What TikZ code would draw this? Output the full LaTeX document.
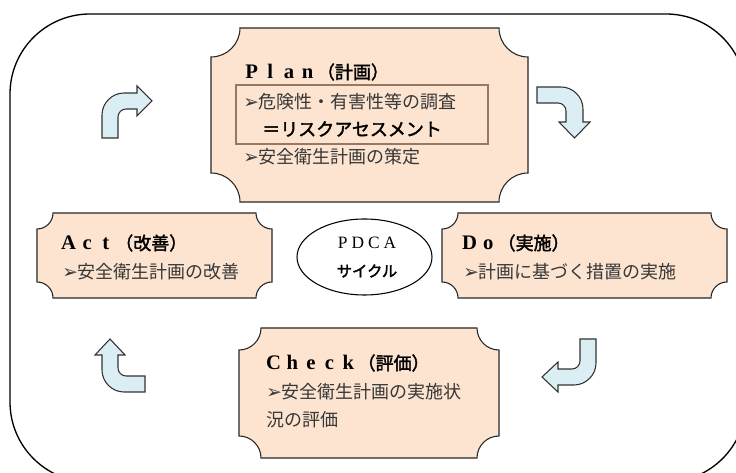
\documentclass[tikz,border=0pt]{standalone}
\usepackage{fontspec}
\setmainfont{Liberation Serif}
\newfontfamily\jp{Noto Sans CJK JP}
\newfontfamily\jpb{Noto Sans CJK JP}[FakeBold=2]
\newfontfamily\dv{DejaVu Sans}
\definecolor{peach}{RGB}{252,228,208}
\definecolor{arrowfill}{RGB}{218,238,243}
\definecolor{innerbrd}{RGB}{150,120,100}
\definecolor{bodytxt}{RGB}{55,55,55}
\newcommand{\arw}{{\dv\fontsize{14}{13}\selectfont ➢}}
\newcommand{\wl}[1]{\makebox[14pt][c]{\bfseries\fontsize{15.5}{15.5}\selectfont #1}}
\newcommand{\ttlkanji}[1]{{\jpb\fontsize{13.5}{13.5}\selectfont #1}}
\newcommand{\plaque}[5]{%
\filldraw[plaq] ({#1+#5},#2) -- ({#3-#5},#2)
 .. controls ({#3-#5},{#2+0.552*#5}) and ({#3-0.552*#5},{#2+#5}) .. (#3,{#2+#5})
 -- (#3,{#4-#5})
 .. controls ({#3-0.552*#5},{#4-#5}) and ({#3-#5},{#4-0.552*#5}) .. ({#3-#5},#4)
 -- ({#1+#5},#4)
 .. controls ({#1+#5},{#4-0.552*#5}) and ({#1+0.552*#5},{#4-#5}) .. (#1,{#4-#5})
 -- (#1,{#2+#5})
 .. controls ({#1+0.552*#5},{#2+#5}) and ({#1+#5},{#2+0.552*#5}) .. ({#1+#5},#2)
 -- cycle;}
\begin{document}
\begin{tikzpicture}[x=0.75pt,y=-0.75pt,
  plaq/.style={fill=peach,draw=black!85,line width=0.8pt},
  bent/.style={fill=arrowfill,draw=black!80,line width=0.8pt,line join=miter},
  body/.style={anchor=west,inner sep=0pt,text=bodytxt,font=\jp\fontsize{13.5}{13.5}\selectfont},
  title/.style={anchor=west,inner sep=0pt,text=black}]
\useasboundingbox (0,0) rectangle (736,473);
\clip (0,0) rectangle (736,473);
\fill[white] (0,0) rectangle (736,473);
% outer frame
\draw[line width=1pt,rounded corners=60pt] (10,14) rectangle (746,482);
% boxes
\plaque{211}{28}{528}{202}{29}
\draw[innerbrd,line width=0.8pt] (236,85) rectangle (488,144);
\plaque{37}{213}{272}{298}{16}
\plaque{442}{213}{727}{298}{16}
\plaque{239}{328}{499}{458}{22}
\draw[line width=0.8pt,fill=white] (364.5,257) ellipse [x radius=67.5,y radius=38];
% texts
\node[title] (plantitle) at (242,72) {\wl{P}\wl{l}\wl{a}\wl{n}\ttlkanji{（計画）}};
\node[body] (plan1) at (243,102) {\arw 危険性・有害性等の調査};
\node[body,text=black] (plan2) at (262,129) {\jpb\fontsize{13.5}{13.5}\selectfont ＝リスクアセスメント};
\node[body] (plan3) at (243,157) {\arw 安全衛生計画の策定};
\node[title] (acttitle) at (59,243) {\wl{A}\wl{c}\wl{t}\ttlkanji{（改善）}};
\node[body] (act1) at (62,272) {\arw 安全衛生計画の改善};
\node[title] (dotitle) at (460,243) {\wl{D}\wl{o}\ttlkanji{（実施）}};
\node[body] (do1) at (463,272) {\arw 計画に基づく措置の実施};
\node[title] (checktitle) at (264,363) {\wl{C}\wl{h}\wl{e}\wl{c}\wl{k}\ttlkanji{（評価）}};
\node[body] (check1) at (266,392) {\arw 安全衛生計画の実施状};
\node[body] (check2) at (266,420) {況の評価};
\node[inner sep=0pt,font=\fontsize{13}{13}\selectfont] (pdca) at (367,243) {P\hspace{3pt}D\hspace{3pt}C\hspace{3pt}A};
\node[inner sep=0pt,font=\jpb\fontsize{11.5}{11.5}\selectfont] (cycle) at (367,271) {サイクル};
% bent arrows
\filldraw[bent] (102,138) -- (102,115) .. controls (102,103) and (112,93) .. (124,93) -- (137,93) -- (137,86) -- (152,101) -- (137,116) -- (137,109) -- (126,109) .. controls (121.6,109) and (118,112.6) .. (118,117) -- (118,138) -- cycle;
\filldraw[bent] (537,87) -- (561,87) .. controls (573,87) and (583,97) .. (583,109) -- (583,122) -- (590,122) -- (574.5,138) -- (559,122) -- (566,122) -- (566,111) .. controls (566,106.6) and (562.4,103) .. (558,103) -- (537,103) -- cycle;
\filldraw[bent] (110,339) -- (125,355) -- (118,355) -- (118,368) .. controls (118,372.4) and (121.6,376) .. (126,376) -- (145,376) -- (145,392) -- (124,392) .. controls (112,392) and (102,382) .. (102,370) -- (102,355) -- (95,355) -- cycle;
\filldraw[bent] (580,339) -- (596,339) -- (596,363) .. controls (596,375) and (586,385) .. (574,385) -- (558,385) -- (558,392) -- (542,377) -- (558,362) -- (558,369) -- (572,369) .. controls (576.4,369) and (580,365.4) .. (580,361) -- cycle;
\end{tikzpicture}
\end{document}
